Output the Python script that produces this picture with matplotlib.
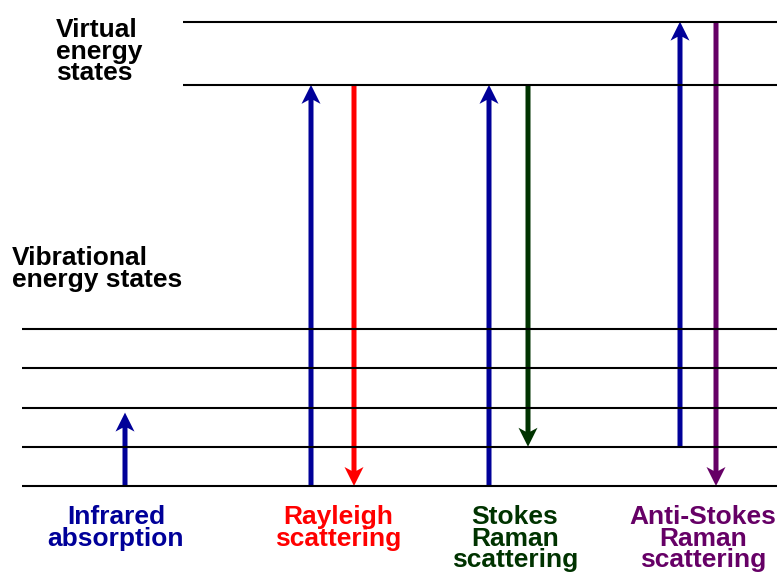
import numpy as np
import matplotlib.pyplot as plt

# energy levels (arbitrary units, ground state = 0)
vib_levels = [0, 1, 2, 3, 4]
virtual_levels = [10.22, 11.83]

# transitions per process: (start level, end level)
processes = ["Infrared\nabsorption", "Rayleigh\nscattering",
             "Stokes\nRaman\nscattering", "Anti-Stokes\nRaman\nscattering"]
transitions = [
    [(0, 1.87)],
    [(0, 10.22), (10.22, 0)],
    [(0, 10.22), (10.22, 1)],
    [(1, 11.83), (11.83, 0)],
]

# layout
px_per_unit = 39.25
y_ground = 486
arrow_x = [[125], [311, 354], [489, 528], [680, 716]]
arrow_colors = [["#000099"], ["#000099", "#ff0000"], ["#000099", "#003300"], ["#000099", "#660066"]]
label_x = [116, 338, 515, 703]
label_colors = ["#000099", "#ff0000", "#003300", "#660066"]

fig = plt.figure(figsize=(7.77, 5.72), dpi=100)
ax = fig.add_axes([0, 0, 1, 1])
ax.set_xlim(0, 777)
ax.set_ylim((y_ground - 572) / px_per_unit, y_ground / px_per_unit)
ax.axis('off')

ax.hlines(vib_levels, 22, 777, color='black', lw=1.5)
ax.hlines(virtual_levels, 183, 777, color='black', lw=1.5)

for xs, trs, cols in zip(arrow_x, transitions, arrow_colors):
    for x, (y0, y1), c in zip(xs, trs, cols):
        ax.arrow(x, y0, 0, y1 - y0, width=5, head_width=19,
                 head_length=19 / px_per_unit, overhang=0.2,
                 length_includes_head=True, color=c, lw=0)

font = dict(family='Liberation Sans', fontweight='bold', fontsize=19, linespacing=0.88)
for name, x, c in zip(processes, label_x, label_colors):
    ax.text(x, (y_ground - 505) / px_per_unit, name, ha='center', va='top', color=c, **font)

ax.text(56, (y_ground - 18) / px_per_unit, "Virtual\nenergy\nstates",
        ha='left', va='top', color='black', **font)
ax.text(12, (y_ground - 246) / px_per_unit, "Vibrational\nenergy states",
        ha='left', va='top', color='black', **font)

fig.savefig('out.png', dpi=100)
